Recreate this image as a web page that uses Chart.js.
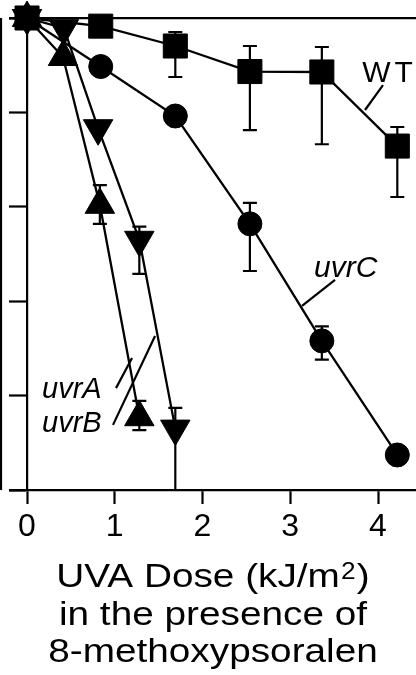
<!DOCTYPE html>
<html><head><meta charset="utf-8">
<script src="https://cdn.jsdelivr.net/npm/chart.js@4.4.1/dist/chart.umd.min.js"></script>
<style>html,body{margin:0;padding:0;background:#fff;}canvas{display:block;}</style>
</head><body>
<canvas id="c" width="416" height="675"></canvas>
<script>
// ---- data (survival fraction vs UVA dose, kJ/m2) ----
const xTicks = [0, 1, 2, 3, 4];
const yTicks = [1, 0.1, 0.01, 0.001, 0.0001, 0.00001];

const wtDose = [0, 0.84, 1.69, 2.54, 3.36, 4.22];
const wtSurv = [1, 0.82, 0.505, 0.271, 0.268, 0.044];
const wtLow  = [null, null, 0.237, 0.065, 0.046, 0.0127];
const wtHigh = [null, null, 0.711, 0.505, 0.493, 0.070];

const uvrCDose = [0, 0.84, 1.69, 2.54, 3.36, 4.22];
const uvrCSurv = [1, 0.306, 0.0916, 0.0066, 0.00038, 0.0000235];
const uvrCLow  = [null, null, null, 0.00209, 0.00024, null];
const uvrCHigh = [null, null, null, 0.011, 0.00054, null];

const uvrBDose = [0, 0.42, 0.81, 1.28, 1.69];
const uvrBSurv = [1, 0.78, 0.068, 0.00447, 0.0000447];
const uvrBLow  = [null, null, null, 0.00195, 0.00001];
const uvrBHigh = [null, null, null, 0.00617, 0.000074];

const uvrADose = [0, 0.41, 0.83, 1.28];
const uvrASurv = [1, 0.386, 0.0105, 0.000059];
const uvrALow  = [null, null, 0.0066, 0.000043];
const uvrAHigh = [null, null, 0.017, 0.000088];

// title lines: [main text, superscript, trailing text]
const xTitle = [['UVA Dose (kJ/m', '2', ')'], ['in the presence of', '', ''], ['8-methoxypsoralen', '', '']];

// ---- presentation ----
const FONT = "'Liberation Sans', Arial, Helvetica, sans-serif";
const series = [
  {name: 'WT',   dose: wtDose,   surv: wtSurv,   lo: wtLow,   hi: wtHigh,   style: 'rect',     r: 17, rot: 0},
  {name: 'uvrC', dose: uvrCDose, surv: uvrCSurv, lo: uvrCLow, hi: uvrCHigh, style: 'circle',   r: 12, rot: 0},
  {name: 'uvrB', dose: uvrBDose, surv: uvrBSurv, lo: uvrBLow, hi: uvrBHigh, style: 'triangle', r: 17, rot: 180},
  {name: 'uvrA', dose: uvrADose, surv: uvrASurv, lo: uvrALow, hi: uvrAHigh, style: 'triangle', r: 17, rot: 0}
];
// labels and leader lines, in data coordinates
const labels = [
  {text: 'WT',   x: 3.82, y: 0.21,    italic: false, size: 30, spacing: 4,
   lead: [[4.057, 0.195], [3.852, 0.106]]},
  {text: 'uvrC', x: 3.27, y: 0.0018,  italic: true,  size: 30, spacing: 0,
   lead: [[3.51, 0.00168], [3.134, 0.00089]]},
  {text: 'uvrA', x: 0.171, y: 0.000094, italic: true, size: 29, spacing: 0,
   lead: [[1.014, 0.00012], [1.197, 0.00025]]},
  {text: 'uvrB', x: 0.171, y: 0.000041, italic: true, size: 29, spacing: 0,
   lead: [[0.98, 0.000049], [1.459, 0.000428]]}
];

const noPad = s => { s.paddingLeft = 0; s.paddingRight = 0; s.paddingTop = 0; s.paddingBottom = 0; };

const errorBars = {
  id: 'errorBars',
  beforeDatasetsDraw(chart) {
    const {ctx, scales: {x, y}} = chart;
    ctx.save();
    ctx.strokeStyle = '#000'; ctx.lineWidth = 2.2;
    series.forEach(s => s.dose.forEach((d, i) => {
      if (s.lo[i] == null) return;
      const px = x.getPixelForValue(d);
      const y1 = y.getPixelForValue(s.lo[i]);
      const y2 = y.getPixelForValue(s.hi[i]);
      ctx.beginPath();
      ctx.moveTo(px, y1); ctx.lineTo(px, y2);
      ctx.moveTo(px - 7, y1); ctx.lineTo(px + 7, y1);
      ctx.moveTo(px - 7, y2); ctx.lineTo(px + 7, y2);
      ctx.stroke();
    }));
    ctx.restore();
  }
};

const annotations = {
  id: 'annotations',
  afterDraw(chart) {
    const {ctx, chartArea, scales: {x, y}} = chart;
    ctx.save();
    ctx.strokeStyle = '#000'; ctx.fillStyle = '#000'; ctx.lineWidth = 2.2;
    // frame edge of neighbouring panel
    ctx.beginPath();
    ctx.moveTo(chartArea.left - 9, chartArea.top);
    ctx.lineTo(chartArea.left - 9, chartArea.bottom);
    ctx.stroke();
    labels.forEach(l => {
      ctx.font = (l.italic ? 'italic ' : '') + l.size + 'px ' + FONT;
      ctx.letterSpacing = l.spacing + 'px';
      ctx.textBaseline = 'alphabetic';
      ctx.textAlign = 'left';
      ctx.fillText(l.text, x.getPixelForValue(l.x), y.getPixelForValue(l.y));
      ctx.beginPath();
      ctx.moveTo(x.getPixelForValue(l.lead[0][0]), y.getPixelForValue(l.lead[0][1]));
      ctx.lineTo(x.getPixelForValue(l.lead[1][0]), y.getPixelForValue(l.lead[1][1]));
      ctx.stroke();
    });
    // axis title (slightly wide face, like the original lettering)
    ctx.letterSpacing = '0px';
    ctx.textAlign = 'left';
    ctx.textBaseline = 'alphabetic';
    const main = '34px ' + FONT, sup = '23px ' + FONT;
    const cx = (x.left + x.right) / 2;
    xTitle.forEach((parts, i) => {
      ctx.font = main; const w0 = ctx.measureText(parts[0]).width;
      const w2 = ctx.measureText(parts[2]).width;
      ctx.font = sup; const w1 = parts[1] ? ctx.measureText(parts[1]).width + 2 : 0;
      const total = w0 + w1 + w2;
      ctx.save();
      ctx.translate(cx, x.bottom - 13 - (xTitle.length - 1 - i) * 37.5);
      ctx.scale(1.14, 1);
      ctx.font = main; ctx.fillText(parts[0], -total / 2, 0);
      if (parts[1]) { ctx.font = sup; ctx.fillText(parts[1], -total / 2 + w0 + 1, -8); }
      ctx.font = main; ctx.fillText(parts[2], -total / 2 + w0 + w1, 0);
      ctx.restore();
    });
    ctx.restore();
  }
};

new Chart(document.getElementById('c'), {
  type: 'scatter',
  data: {
    datasets: series.map(s => ({
      label: s.name,
      data: s.dose.map((d, i) => ({x: d, y: s.surv[i]})),
      showLine: true,
      borderColor: '#000', borderWidth: 2.3, backgroundColor: '#000',
      pointStyle: s.style, pointRadius: s.r, pointHoverRadius: s.r, pointRotation: s.rot,
      pointBackgroundColor: '#000', pointBorderColor: '#000', pointBorderWidth: 1,
      tension: 0, clip: false
    }))
  },
  options: {
    responsive: false, animation: false, devicePixelRatio: 1,
    layout: {autoPadding: false, padding: {top: 18, left: 10, right: 0, bottom: 0}},
    plugins: {legend: {display: false}, tooltip: {enabled: false}},
    scales: {
      x: {
        type: 'linear', position: 'bottom', min: -0.194, max: 4.433,
        afterBuildTicks: s => { s.ticks = xTicks.map(v => ({value: v})); },
        afterFit: s => { s.height = 185; noPad(s); },
        ticks: {color: '#000', font: {family: FONT, size: 32, lineHeight: 1}, padding: 7, maxRotation: 0,
                callback: v => String(v)},
        grid: {drawOnChartArea: false, drawTicks: true, tickLength: 14, tickWidth: 2.2, tickColor: '#000'},
        border: {display: true, color: '#000', width: 2.2},
        title: {display: false}
      },
      x2: {
        type: 'linear', position: 'top', min: -0.194, max: 4.433,
        afterFit: s => { s.height = 0; noPad(s); },
        ticks: {display: false},
        grid: {drawOnChartArea: false, drawTicks: false},
        border: {display: true, color: '#000', width: 2.2}
      },
      y: {
        type: 'logarithmic', min: 0.00001, max: 1,
        position: {x: 0},
        afterBuildTicks: s => { s.ticks = yTicks.map(v => ({value: v})); },
        afterFit: noPad,
        ticks: {display: false},
        grid: {drawOnChartArea: false, drawTicks: true, tickLength: 17, tickWidth: 2.2, tickColor: '#000'},
        border: {display: true, color: '#000', width: 2.2}
      }
    }
  },
  plugins: [errorBars, annotations]
});
</script>
</body></html>
